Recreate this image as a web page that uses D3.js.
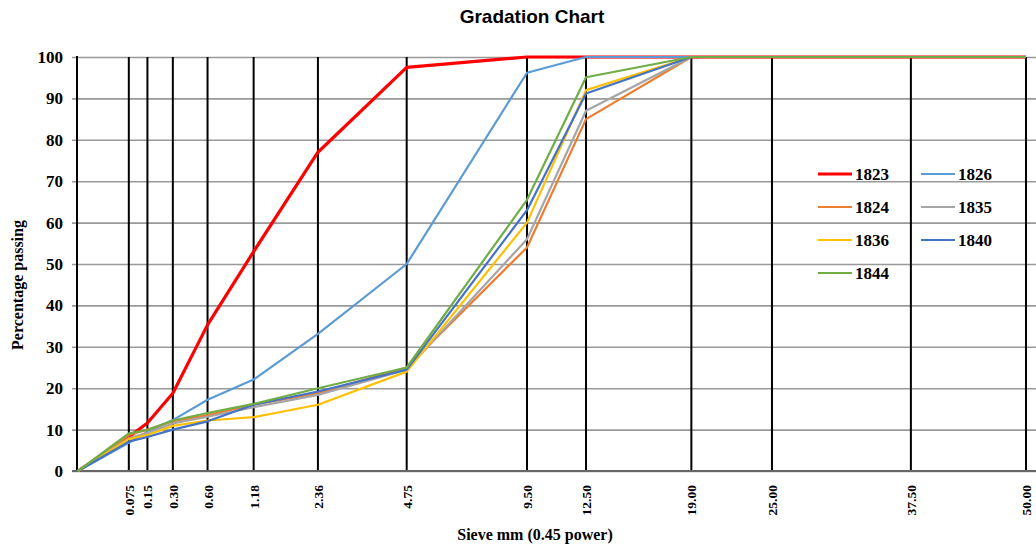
<!DOCTYPE html>
<html>
<head>
<meta charset="utf-8">
<script src="https://cdn.jsdelivr.net/npm/d3@7"></script>
<style>
  html, body { margin: 0; padding: 0; background: #fff; }
  svg { display: block; }
</style>
</head>
<body>
<svg id="chart" width="1036" height="545"></svg>
<script>
// Sieve sizes (mm) and percentage passing for each sample year
const sieves = [0, 0.075, 0.15, 0.30, 0.60, 1.18, 2.36, 4.75, 9.50, 12.50, 19.00, 25.00, 37.50, 50.00];
const sieveLabels = ["0.075", "0.15", "0.30", "0.60", "1.18", "2.36", "4.75", "9.50", "12.50", "19.00", "25.00", "37.50", "50.00"];
const yTicks = [0, 10, 20, 30, 40, 50, 60, 70, 80, 90, 100];

const seriesNames = ["1823", "1826", "1824", "1835", "1836", "1840", "1844"];
const seriesColors = ["#ff0000", "#5b9bd5", "#ed7d31", "#a5a5a5", "#ffc000", "#4472c4", "#70ad47"];

const p1823 = [0, 8.2, 11.6, 18.8, 35.3, 53.0, 77.0, 97.5, 100, 100, 100, 100, 100, 100];
const p1826 = [0, 6.8, 9.5, 12.3, 17.2, 22.1, 33.1, 50.0, 96.2, 100, 100, 100, 100, 100];
const p1824 = [0, 8.7, 10.0, 12.0, 13.5, 16.0, 18.8, 25.0, 54.0, 85.0, 100, 100, 100, 100];
const p1835 = [0, 7.9, 9.2, 11.5, 13.1, 15.4, 18.4, 24.5, 56.0, 87.0, 100, 100, 100, 100];
const p1836 = [0, 7.7, 8.7, 10.9, 12.2, 13.0, 16.0, 24.0, 60.0, 92.0, 100, 100, 100, 100];
const p1840 = [0, 7.1, 8.2, 10.0, 12.0, 16.0, 19.2, 24.5, 63.0, 91.2, 100, 100, 100, 100];
const p1844 = [0, 9.1, 9.9, 12.2, 14.0, 16.2, 20.0, 25.0, 65.5, 95.1, 100, 100, 100, 100];

const seriesValues = [p1823, p1826, p1824, p1835, p1836, p1840, p1844];

const svg = d3.select("#chart");
const serif = "'Liberation Serif', 'Times New Roman', serif";

// 0.45 power sieve axis
const x = d3.scalePow().exponent(0.45).domain([0, 50]).range([78, 1026]);
const y = d3.scaleLinear().domain([0, 100]).range([471, 57]);
const plotLeft = 77, plotRight = 1036;

// Title
svg.append("text")
  .attr("x", 532).attr("y", 23)
  .attr("text-anchor", "middle")
  .style("font-family", "'Liberation Sans', Arial, sans-serif")
  .style("font-weight", "bold").style("font-size", "19px")
  .text("Gradation Chart");

// Horizontal gridlines, extending a little left of the axis as ticks
const gy = svg.append("g").attr("transform", `translate(${plotRight},0)`);
gy.call(d3.axisRight(y).tickValues(yTicks).tickSize(-(plotRight - plotLeft + 5)).tickFormat(""));
gy.select(".domain").remove();
gy.selectAll(".tick line").attr("stroke", "#999").attr("stroke-width", 1.6);

// Y tick labels
svg.append("g").selectAll("text").data(yTicks).join("text")
  .attr("x", 63).attr("y", d => y(d) + 6)
  .attr("text-anchor", "end")
  .style("font-family", serif).style("font-weight", "bold").style("font-size", "17px")
  .text(d => d);

// Vertical sieve gridlines
const sieveTicks = sieves.slice(1);
svg.append("g").selectAll("line").data(sieveTicks).join("line")
  .attr("x1", d => x(d)).attr("x2", d => x(d))
  .attr("y1", y(100)).attr("y2", y(0))
  .attr("stroke", "#000").attr("stroke-width", 2);

// Left axis line and bottom axis line
svg.append("line").attr("x1", plotLeft).attr("x2", plotLeft)
  .attr("y1", y(100) - 1).attr("y2", y(0))
  .attr("stroke", "#000").attr("stroke-width", 2);
svg.append("line").attr("x1", plotLeft - 5).attr("x2", plotRight)
  .attr("y1", y(0)).attr("y2", y(0))
  .attr("stroke", "#666").attr("stroke-width", 2.2);

// X tick labels (rotated)
svg.append("g").selectAll("text").data(sieveTicks).join("text")
  .attr("transform", d => `translate(${x(d) + 5},485) rotate(-90)`)
  .attr("text-anchor", "end")
  .style("font-family", serif).style("font-weight", "bold").style("font-size", "13.5px")
  .text((d, i) => sieveLabels[i]);

// Axis titles
svg.append("text")
  .attr("x", 535).attr("y", 540)
  .attr("text-anchor", "middle")
  .style("font-family", serif).style("font-weight", "bold").style("font-size", "16px")
  .text("Sieve mm (0.45 power)");

svg.append("text")
  .attr("transform", "translate(23,285) rotate(-90)")
  .attr("text-anchor", "middle")
  .style("font-family", serif).style("font-weight", "bold").style("font-size", "16px")
  .text("Percentage passing");

// Gradation curves
const line = d3.line().x(d => x(d[0])).y(d => y(d[1]));
const curves = svg.append("g");
seriesNames.forEach((name, i) => {
  const pts = sieves.map((s, j) => [s, seriesValues[i][j]]);
  curves.append("path")
    .datum(pts)
    .attr("d", line)
    .attr("fill", "none")
    .attr("stroke", seriesColors[i])
    .attr("stroke-width", name === "1823" ? 3.2 : 2.2)
    .attr("stroke-linejoin", "round");
});

// Legend, two columns
const legend = svg.append("g");
seriesNames.forEach((name, i) => {
  const col = i % 2, row = Math.floor(i / 2);
  const lx = col === 0 ? 818 : 921;
  const ly = 174 + row * 33;
  legend.append("line")
    .attr("x1", lx).attr("x2", lx + 34)
    .attr("y1", ly).attr("y2", ly)
    .attr("stroke", seriesColors[i])
    .attr("stroke-width", name === "1823" ? 3.2 : 2.2);
  legend.append("text")
    .attr("x", lx + 37).attr("y", ly + 6)
    .style("font-family", serif).style("font-weight", "bold").style("font-size", "17px")
    .text(name);
});
</script>
</body>
</html>
